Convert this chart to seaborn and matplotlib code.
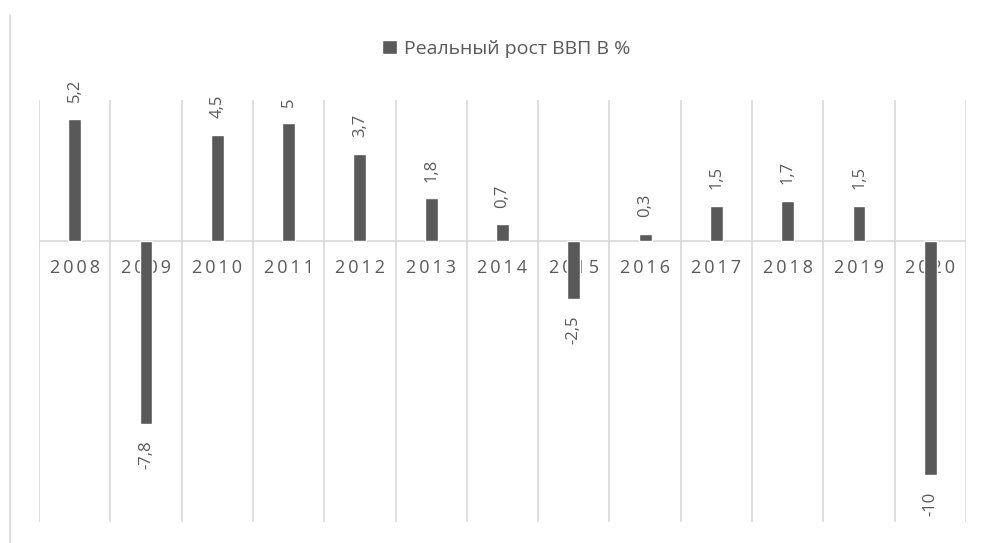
import matplotlib
matplotlib.use("Agg")
import matplotlib.pyplot as plt
from matplotlib.lines import Line2D
import seaborn as sns
import pandas as pd

years = ["2008", "2009", "2010", "2011", "2012", "2013", "2014",
         "2015", "2016", "2017", "2018", "2019", "2020"]
growth = [5.2, -7.8, 4.5, 5.0, 3.7, 1.8, 0.7, -2.5, 0.3, 1.5, 1.7, 1.5, -10.0]
value_labels = ["5,2", "-7,8", "4,5", "5", "3,7", "1,8", "0,7",
                "-2,5", "0,3", "1,5", "1,7", "1,5", "-10"]
series_name = "Реальный рост ВВП В %"

sns.set_theme(style="white")
plt.rcParams["font.family"] = ["Open Sans", "DejaVu Sans"]

BAR = "#595959"
GRID = "#d9d9d9"
TXT = "#595959"

df = pd.DataFrame({"year": years, "growth": growth})

fig = plt.figure(figsize=(9.81, 5.43), dpi=100)
ax = fig.add_axes([39 / 981, 1 - 522 / 543, 927 / 981, 422 / 543])

sns.barplot(data=df, x="year", y="growth", color=BAR, width=0.18,
            saturation=1, ax=ax, label=series_name, zorder=3)

ax.set_xlim(-0.5, len(years) - 0.5)
ax.set_ylim(-12, 6)

# vertical grid between categories + zero line
for b in range(len(years) + 1):
    ax.axvline(b - 0.5, color=GRID, lw=1.2, zorder=0)
ax.axhline(0, color=GRID, lw=1.2, zorder=0.5)

for s in ax.spines.values():
    s.set_visible(False)
ax.set_xticks([])
ax.set_yticks([])
ax.set_xlabel("")
ax.set_ylabel("")

# year labels sitting just under the zero line, letter-spaced
for i, y in enumerate(years):
    ax.annotate("\u2009".join(y), xy=(i, 0), xytext=(0, -20), textcoords="offset points",
                ha="center", va="center", fontsize=13, color=TXT, zorder=1)

ax.bar_label(ax.containers[0], labels=value_labels, rotation=90, padding=12,
             fontsize=12, color=TXT)

leg = ax.legend(loc="center", bbox_to_anchor=(506 / 981, 1 - 49 / 543),
                bbox_transform=fig.transFigure, frameon=False,
                handlelength=0.75, handleheight=0.75, handletextpad=0.35,
                fontsize=14)
for t in leg.get_texts():
    t.set_color(TXT)

# chart frame left edge
fig.add_artist(Line2D([10 / 981, 10 / 981], [0, 1 - 15 / 543],
                      transform=fig.transFigure, color=GRID, lw=1.2))

fig.savefig("out.png", dpi=100)
